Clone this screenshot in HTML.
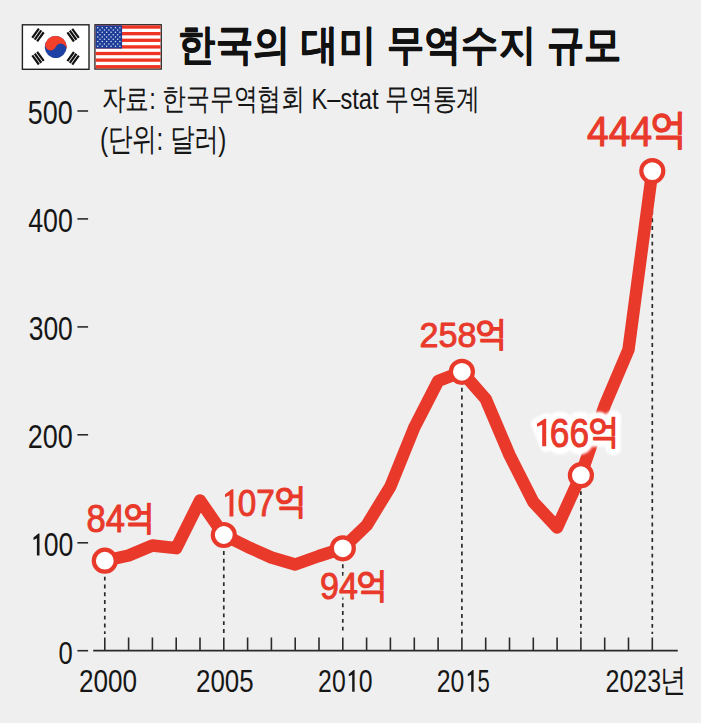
<!DOCTYPE html>
<html><head><meta charset="utf-8">
<style>
html,body{margin:0;padding:0;background:#efefef;width:701px;height:723px;overflow:hidden}
svg{display:block}
text{font-family:"Liberation Sans",sans-serif}
</style></head>
<body>
<svg width="701" height="723" viewBox="0 0 701 723">
<rect x="22.4" y="24.8" width="66.6" height="44.5" fill="#fff" stroke="#222" stroke-width="1.4"/>
<g transform="translate(55.7,47.0) rotate(22)"><circle r="11.0" fill="#1f41a3"/><path d="M-11.0,0 A11.0,11.0 0 0 1 11.0,0 A5.5,5.5 0 0 0 0,0 A5.5,5.5 0 0 1 -11.0,0 Z" fill="#f4402b"/></g>
<g transform="translate(38.00,35.00) rotate(-54.00)"><rect x="-5.6" y="-4.1" width="11.2" height="2.2" fill="#111"/><rect x="-5.6" y="-1.1" width="11.2" height="2.2" fill="#111"/><rect x="-5.6" y="1.9" width="11.2" height="2.2" fill="#111"/></g>
<g transform="translate(73.10,35.20) rotate(54.00)"><rect x="-5.6" y="-4.1" width="11.2" height="2.2" fill="#111"/><rect x="-5.6" y="-1.1" width="11.2" height="2.2" fill="#111"/><rect x="-5.6" y="1.9" width="11.2" height="2.2" fill="#111"/></g>
<g transform="translate(38.00,58.20) rotate(54.00)"><rect x="-5.6" y="-4.1" width="11.2" height="2.2" fill="#111"/><rect x="-5.6" y="-1.1" width="11.2" height="2.2" fill="#111"/><rect x="-5.6" y="1.9" width="11.2" height="2.2" fill="#111"/></g>
<g transform="translate(73.10,58.30) rotate(-54.00)"><rect x="-5.6" y="-4.1" width="11.2" height="2.2" fill="#111"/><rect x="-5.6" y="-1.1" width="11.2" height="2.2" fill="#111"/><rect x="-5.6" y="1.9" width="11.2" height="2.2" fill="#111"/></g>
<rect x="94.3" y="24.1" width="67.60000000000001" height="45.6" fill="#222"/>
<rect x="95.6" y="25.400000000000002" width="65.0" height="43.0" fill="#fff"/>
<rect x="95.6" y="25.40" width="65.00" height="3.31" fill="#ee3322"/>
<rect x="95.6" y="32.02" width="65.00" height="3.31" fill="#ee3322"/>
<rect x="95.6" y="38.63" width="65.00" height="3.31" fill="#ee3322"/>
<rect x="95.6" y="45.25" width="65.00" height="3.31" fill="#ee3322"/>
<rect x="95.6" y="51.86" width="65.00" height="3.31" fill="#ee3322"/>
<rect x="95.6" y="58.48" width="65.00" height="3.31" fill="#ee3322"/>
<rect x="95.6" y="65.09" width="65.00" height="3.31" fill="#ee3322"/>
<rect x="95.6" y="25.400000000000002" width="26.50" height="23.15" fill="#1d3c98"/>
<circle cx="97.81" cy="27.72" r="0.75" fill="#dfe6f5"/>
<circle cx="102.22" cy="27.72" r="0.75" fill="#dfe6f5"/>
<circle cx="106.64" cy="27.72" r="0.75" fill="#dfe6f5"/>
<circle cx="111.06" cy="27.72" r="0.75" fill="#dfe6f5"/>
<circle cx="115.47" cy="27.72" r="0.75" fill="#dfe6f5"/>
<circle cx="119.89" cy="27.72" r="0.75" fill="#dfe6f5"/>
<circle cx="100.02" cy="30.03" r="0.75" fill="#dfe6f5"/>
<circle cx="104.43" cy="30.03" r="0.75" fill="#dfe6f5"/>
<circle cx="108.85" cy="30.03" r="0.75" fill="#dfe6f5"/>
<circle cx="113.27" cy="30.03" r="0.75" fill="#dfe6f5"/>
<circle cx="117.68" cy="30.03" r="0.75" fill="#dfe6f5"/>
<circle cx="97.81" cy="32.35" r="0.75" fill="#dfe6f5"/>
<circle cx="102.22" cy="32.35" r="0.75" fill="#dfe6f5"/>
<circle cx="106.64" cy="32.35" r="0.75" fill="#dfe6f5"/>
<circle cx="111.06" cy="32.35" r="0.75" fill="#dfe6f5"/>
<circle cx="115.47" cy="32.35" r="0.75" fill="#dfe6f5"/>
<circle cx="119.89" cy="32.35" r="0.75" fill="#dfe6f5"/>
<circle cx="100.02" cy="34.66" r="0.75" fill="#dfe6f5"/>
<circle cx="104.43" cy="34.66" r="0.75" fill="#dfe6f5"/>
<circle cx="108.85" cy="34.66" r="0.75" fill="#dfe6f5"/>
<circle cx="113.27" cy="34.66" r="0.75" fill="#dfe6f5"/>
<circle cx="117.68" cy="34.66" r="0.75" fill="#dfe6f5"/>
<circle cx="97.81" cy="36.98" r="0.75" fill="#dfe6f5"/>
<circle cx="102.22" cy="36.98" r="0.75" fill="#dfe6f5"/>
<circle cx="106.64" cy="36.98" r="0.75" fill="#dfe6f5"/>
<circle cx="111.06" cy="36.98" r="0.75" fill="#dfe6f5"/>
<circle cx="115.47" cy="36.98" r="0.75" fill="#dfe6f5"/>
<circle cx="119.89" cy="36.98" r="0.75" fill="#dfe6f5"/>
<circle cx="100.02" cy="39.29" r="0.75" fill="#dfe6f5"/>
<circle cx="104.43" cy="39.29" r="0.75" fill="#dfe6f5"/>
<circle cx="108.85" cy="39.29" r="0.75" fill="#dfe6f5"/>
<circle cx="113.27" cy="39.29" r="0.75" fill="#dfe6f5"/>
<circle cx="117.68" cy="39.29" r="0.75" fill="#dfe6f5"/>
<circle cx="97.81" cy="41.61" r="0.75" fill="#dfe6f5"/>
<circle cx="102.22" cy="41.61" r="0.75" fill="#dfe6f5"/>
<circle cx="106.64" cy="41.61" r="0.75" fill="#dfe6f5"/>
<circle cx="111.06" cy="41.61" r="0.75" fill="#dfe6f5"/>
<circle cx="115.47" cy="41.61" r="0.75" fill="#dfe6f5"/>
<circle cx="119.89" cy="41.61" r="0.75" fill="#dfe6f5"/>
<circle cx="100.02" cy="43.92" r="0.75" fill="#dfe6f5"/>
<circle cx="104.43" cy="43.92" r="0.75" fill="#dfe6f5"/>
<circle cx="108.85" cy="43.92" r="0.75" fill="#dfe6f5"/>
<circle cx="113.27" cy="43.92" r="0.75" fill="#dfe6f5"/>
<circle cx="117.68" cy="43.92" r="0.75" fill="#dfe6f5"/>
<circle cx="97.81" cy="46.24" r="0.75" fill="#dfe6f5"/>
<circle cx="102.22" cy="46.24" r="0.75" fill="#dfe6f5"/>
<circle cx="106.64" cy="46.24" r="0.75" fill="#dfe6f5"/>
<circle cx="111.06" cy="46.24" r="0.75" fill="#dfe6f5"/>
<circle cx="115.47" cy="46.24" r="0.75" fill="#dfe6f5"/>
<circle cx="119.89" cy="46.24" r="0.75" fill="#dfe6f5"/>
<text transform="translate(178.40,59.09) scale(0.8522,0.9643)" font-size="44" font-weight="bold" fill="#111" stroke="#111" stroke-width="0.6" stroke-linejoin="round">한국의 대미 무역수지 규모</text>
<text transform="translate(101.68,108.92) scale(0.9108,1.1458)" font-size="26" font-weight="normal" fill="#161616">자료: 한국무역협회 K–stat 무역통계</text>
<text transform="translate(100.03,149.54) scale(0.9341,1.2120)" font-size="26" font-weight="normal" fill="#161616">(단위: 달러)</text>
<text transform="translate(27.87,124.40) scale(0.8173,1.0000)" font-size="33" font-weight="normal" fill="#161616">500</text>
<text transform="translate(28.19,232.20) scale(0.8113,1.0087)" font-size="33" font-weight="normal" fill="#161616">400</text>
<text transform="translate(28.70,340.40) scale(0.8019,1.0087)" font-size="33" font-weight="normal" fill="#161616">300</text>
<text transform="translate(27.87,448.40) scale(0.8173,1.0087)" font-size="33" font-weight="normal" fill="#161616">200</text>
<text transform="translate(43.69,555.80) scale(0.8088,0.9913)" font-size="33" font-weight="normal" fill="#161616">00</text>
<text transform="translate(58.52,663.60) scale(0.7750,0.9739)" font-size="33" font-weight="normal" fill="#161616">0</text>
<text transform="translate(79.02,692.00) scale(0.8424,1.0000)" font-size="31" font-weight="normal" fill="#161616">2000</text>
<text transform="translate(196.03,692.00) scale(0.8364,1.0000)" font-size="31" font-weight="normal" fill="#161616">2005</text>
<text transform="translate(318.10,691.80) scale(0.8000,1.0091)" font-size="31" font-weight="normal" fill="#161616">20</text>
<text transform="translate(358.70,691.80) scale(0.8000,1.0091)" font-size="31" font-weight="normal" fill="#161616">0</text>
<text transform="translate(436.70,691.80) scale(0.8000,1.0091)" font-size="31" font-weight="normal" fill="#161616">20</text>
<text transform="translate(477.39,691.80) scale(0.7133,0.9909)" font-size="31" font-weight="normal" fill="#161616">5</text>
<text transform="translate(605.49,691.80) scale(0.8061,1.0091)" font-size="31" font-weight="normal" fill="#161616">2023</text>
<text transform="translate(659.54,690.61) scale(0.8391,1.0222)" font-size="31" font-weight="normal" fill="#161616">년</text>
<polygon fill="#161616" points="38.46,533.50 39.50,533.50 39.50,555.50 36.90,555.50 36.90,538.34 33.50,539.88 33.50,537.46"/>
<polygon fill="#161616" points="353.64,670.00 354.60,670.00 354.60,691.80 352.20,691.80 352.20,674.80 348.80,676.32 348.80,673.92"/>
<polygon fill="#161616" points="472.64,670.00 473.60,670.00 473.60,691.80 471.20,691.80 471.20,674.80 467.80,676.32 467.80,673.92"/>
<line x1="77.4" y1="111.0" x2="88.1" y2="111.0" stroke="#2a2a2a" stroke-width="1.6"/>
<line x1="77.4" y1="218.9" x2="88.1" y2="218.9" stroke="#2a2a2a" stroke-width="1.6"/>
<line x1="77.4" y1="326.9" x2="88.1" y2="326.9" stroke="#2a2a2a" stroke-width="1.6"/>
<line x1="77.4" y1="434.8" x2="88.1" y2="434.8" stroke="#2a2a2a" stroke-width="1.6"/>
<line x1="77.4" y1="542.8" x2="88.1" y2="542.8" stroke="#2a2a2a" stroke-width="1.6"/>
<line x1="77.4" y1="650.7" x2="88.1" y2="650.7" stroke="#2a2a2a" stroke-width="1.6"/>
<line x1="104.8" y1="576.7" x2="104.8" y2="634" stroke="#2a2a2a" stroke-width="1.7" stroke-dasharray="3.9 3.9"/>
<line x1="223.8" y1="551.0" x2="223.8" y2="634" stroke="#2a2a2a" stroke-width="1.7" stroke-dasharray="3.9 3.9"/>
<line x1="342.8" y1="564.3" x2="342.8" y2="634" stroke="#2a2a2a" stroke-width="1.7" stroke-dasharray="3.9 3.9"/>
<line x1="461.9" y1="387.8" x2="461.9" y2="634" stroke="#2a2a2a" stroke-width="1.7" stroke-dasharray="3.9 3.9"/>
<line x1="580.9" y1="491.2" x2="580.9" y2="634" stroke="#2a2a2a" stroke-width="1.7" stroke-dasharray="3.9 3.9"/>
<line x1="652.3" y1="187.1" x2="652.3" y2="634" stroke="#2a2a2a" stroke-width="1.7" stroke-dasharray="3.9 3.9"/>
<line x1="93.2" y1="650.7" x2="677.8" y2="650.7" stroke="#2a2a2a" stroke-width="1.8"/>
<line x1="104.8" y1="637.5" x2="104.8" y2="650.7" stroke="#2a2a2a" stroke-width="1.6"/>
<line x1="128.6" y1="637.5" x2="128.6" y2="650.7" stroke="#2a2a2a" stroke-width="1.6"/>
<line x1="152.4" y1="637.5" x2="152.4" y2="650.7" stroke="#2a2a2a" stroke-width="1.6"/>
<line x1="176.2" y1="637.5" x2="176.2" y2="650.7" stroke="#2a2a2a" stroke-width="1.6"/>
<line x1="200.0" y1="637.5" x2="200.0" y2="650.7" stroke="#2a2a2a" stroke-width="1.6"/>
<line x1="223.8" y1="637.5" x2="223.8" y2="650.7" stroke="#2a2a2a" stroke-width="1.6"/>
<line x1="247.6" y1="637.5" x2="247.6" y2="650.7" stroke="#2a2a2a" stroke-width="1.6"/>
<line x1="271.4" y1="637.5" x2="271.4" y2="650.7" stroke="#2a2a2a" stroke-width="1.6"/>
<line x1="295.2" y1="637.5" x2="295.2" y2="650.7" stroke="#2a2a2a" stroke-width="1.6"/>
<line x1="319.0" y1="637.5" x2="319.0" y2="650.7" stroke="#2a2a2a" stroke-width="1.6"/>
<line x1="342.8" y1="637.5" x2="342.8" y2="650.7" stroke="#2a2a2a" stroke-width="1.6"/>
<line x1="366.6" y1="637.5" x2="366.6" y2="650.7" stroke="#2a2a2a" stroke-width="1.6"/>
<line x1="390.4" y1="637.5" x2="390.4" y2="650.7" stroke="#2a2a2a" stroke-width="1.6"/>
<line x1="414.3" y1="637.5" x2="414.3" y2="650.7" stroke="#2a2a2a" stroke-width="1.6"/>
<line x1="438.1" y1="637.5" x2="438.1" y2="650.7" stroke="#2a2a2a" stroke-width="1.6"/>
<line x1="461.9" y1="637.5" x2="461.9" y2="650.7" stroke="#2a2a2a" stroke-width="1.6"/>
<line x1="485.7" y1="637.5" x2="485.7" y2="650.7" stroke="#2a2a2a" stroke-width="1.6"/>
<line x1="509.5" y1="637.5" x2="509.5" y2="650.7" stroke="#2a2a2a" stroke-width="1.6"/>
<line x1="533.3" y1="637.5" x2="533.3" y2="650.7" stroke="#2a2a2a" stroke-width="1.6"/>
<line x1="557.1" y1="637.5" x2="557.1" y2="650.7" stroke="#2a2a2a" stroke-width="1.6"/>
<line x1="580.9" y1="637.5" x2="580.9" y2="650.7" stroke="#2a2a2a" stroke-width="1.6"/>
<line x1="604.7" y1="637.5" x2="604.7" y2="650.7" stroke="#2a2a2a" stroke-width="1.6"/>
<line x1="628.5" y1="637.5" x2="628.5" y2="650.7" stroke="#2a2a2a" stroke-width="1.6"/>
<line x1="652.3" y1="637.5" x2="652.3" y2="650.7" stroke="#2a2a2a" stroke-width="1.6"/>
<polyline fill="none" stroke="#e8392b" stroke-width="12.4" stroke-linejoin="round" stroke-linecap="round" points="104.8,560.7 128.6,555.5 152.4,545.5 176.2,548.2 200.0,500.5 223.8,535.0 247.6,546.8 271.4,557.5 295.2,564.5 319.0,556.0 342.8,548.3 366.6,525.4 390.4,486.5 414.3,427.5 438.1,381.1 461.9,371.8 485.7,399.0 509.5,455.0 533.3,502.0 557.1,527.5 580.9,475.2 604.7,405.7 628.5,349.6 652.3,171.1"/>
<circle cx="104.8" cy="560.7" r="11" fill="#fff" stroke="#e8392b" stroke-width="4.2"/>
<circle cx="223.8" cy="535.0" r="11" fill="#fff" stroke="#e8392b" stroke-width="4.2"/>
<circle cx="342.8" cy="548.3" r="11" fill="#fff" stroke="#e8392b" stroke-width="4.2"/>
<circle cx="461.9" cy="371.8" r="11" fill="#fff" stroke="#e8392b" stroke-width="4.2"/>
<circle cx="580.9" cy="475.2" r="11" fill="#fff" stroke="#e8392b" stroke-width="4.2"/>
<circle cx="652.3" cy="171.1" r="11" fill="#fff" stroke="#e8392b" stroke-width="4.2"/>
<defs><filter id="blur1" x="-20%" y="-40%" width="140%" height="180%"><feGaussianBlur stdDeviation="1.0"/></filter><filter id="blur2" x="-20%" y="-40%" width="140%" height="180%"><feGaussianBlur stdDeviation="0.8"/></filter></defs>
<g filter="url(#blur2)"><text transform="translate(320.05,599.46) scale(0.8512,0.9400)" font-size="40" fill="#efefef" stroke="#efefef" stroke-width="10.57" stroke-linejoin="round">94</text><text transform="translate(356.42,596.92) scale(0.7937,0.8684)" font-size="40" fill="#efefef" stroke="#efefef" stroke-width="11.34" stroke-linejoin="round">억</text></g>
<g filter="url(#blur1)"><text transform="translate(549.84,447.20) scale(0.8805,1.0286)" font-size="40" fill="#fff" stroke="#fff" stroke-width="14.76" stroke-linejoin="round">66</text><text transform="translate(588.26,442.59) scale(0.7812,0.8447)" font-size="40" fill="#fff" stroke="#fff" stroke-width="16.64" stroke-linejoin="round">억</text><polygon fill="#fff" stroke="#fff" stroke-width="12" stroke-linejoin="round" points="537,424 546.2,419 546.2,446"/></g>
<text transform="translate(86.54,532.25) scale(0.8628,0.9500)" font-size="40" font-weight="normal" fill="#e8392b" stroke="#e8392b" stroke-width="1.0" stroke-linejoin="round">84</text>
<text transform="translate(123.26,529.48) scale(0.8125,0.8605)" font-size="40" font-weight="normal" fill="#e8392b" stroke="#e8392b" stroke-width="1.8" stroke-linejoin="round">억</text>
<text transform="translate(237.67,515.87) scale(0.8333,0.9333)" font-size="40" font-weight="normal" fill="#e8392b" stroke="#e8392b" stroke-width="1.0" stroke-linejoin="round">07</text>
<text transform="translate(273.86,513.16) scale(0.8125,0.8632)" font-size="40" font-weight="normal" fill="#e8392b" stroke="#e8392b" stroke-width="1.8" stroke-linejoin="round">억</text>
<text transform="translate(320.05,599.46) scale(0.8512,0.9400)" font-size="40" font-weight="normal" fill="#e8392b" stroke="#e8392b" stroke-width="1.0" stroke-linejoin="round">94</text>
<text transform="translate(356.42,596.92) scale(0.7937,0.8684)" font-size="40" font-weight="normal" fill="#e8392b" stroke="#e8392b" stroke-width="1.8" stroke-linejoin="round">억</text>
<text transform="translate(419.49,347.30) scale(0.8547,0.9000)" font-size="40" font-weight="normal" fill="#e8392b" stroke="#e8392b" stroke-width="1.0" stroke-linejoin="round">258</text>
<text transform="translate(475.27,345.27) scale(0.8094,0.8474)" font-size="40" font-weight="normal" fill="#e8392b" stroke="#e8392b" stroke-width="1.8" stroke-linejoin="round">억</text>
<text transform="translate(549.84,447.20) scale(0.8805,1.0286)" font-size="40" font-weight="normal" fill="#e8392b" stroke="#e8392b" stroke-width="1.0" stroke-linejoin="round">66</text>
<text transform="translate(588.26,442.59) scale(0.7812,0.8447)" font-size="40" font-weight="normal" fill="#e8392b" stroke="#e8392b" stroke-width="1.8" stroke-linejoin="round">억</text>
<text transform="translate(587.10,146.16) scale(0.8461,0.9382)" font-size="46" font-weight="normal" fill="#e8392b" stroke="#e8392b" stroke-width="1.1" stroke-linejoin="round">444</text>
<text transform="translate(650.08,143.36) scale(0.8054,0.8930)" font-size="46" font-weight="normal" fill="#e8392b" stroke="#e8392b" stroke-width="1.8" stroke-linejoin="round">억</text>
<polygon fill="#e8392b" points="231.84,489.20 233.40,489.20 233.40,516.60 229.50,516.60 229.50,495.23 225.00,497.15 225.00,494.13"/>
<polygon fill="#e8392b" points="544.60,418.80 546.20,418.80 546.20,446.20 542.20,446.20 542.20,424.83 537.00,426.75 537.00,423.73"/>
</svg>
</body></html>
